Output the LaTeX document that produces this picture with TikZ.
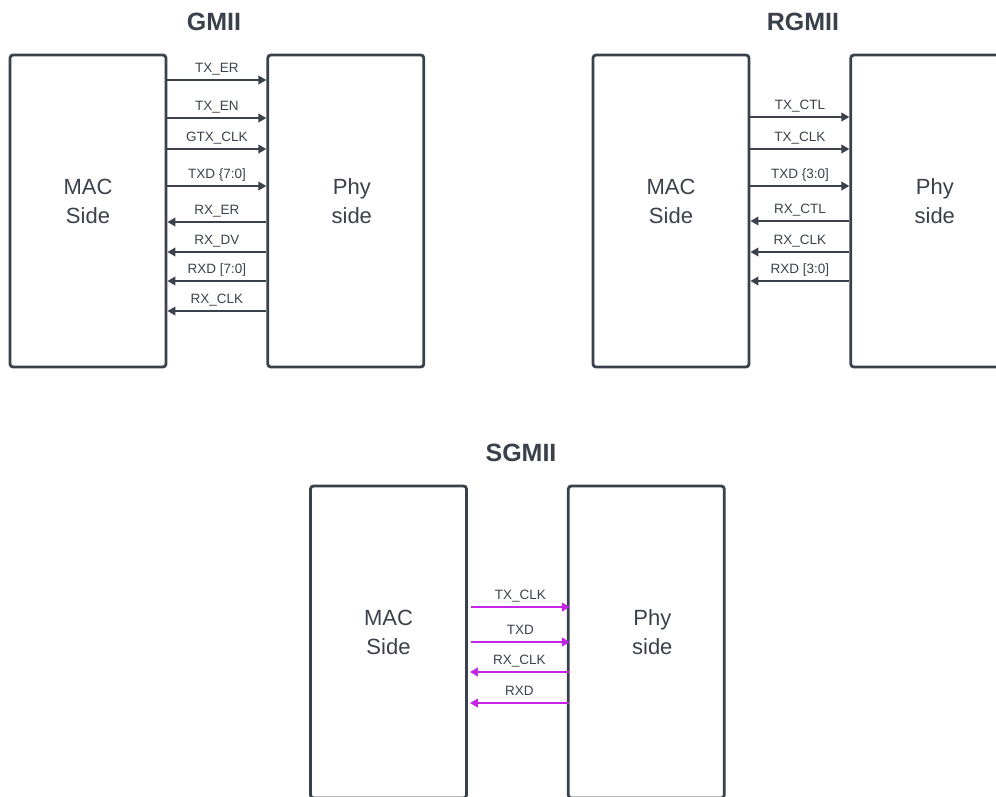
\documentclass[tikz,border=0pt]{standalone}
\usepackage{fontspec}
\setmainfont{Liberation Sans}
\usetikzlibrary{arrows.meta,positioning}
\definecolor{ink}{HTML}{3A414A}
\definecolor{sgline}{HTML}{C424E6}

\begin{document}
\begin{tikzpicture}[x=1pt,y=-1pt,>={Triangle[length=8pt,width=8.5pt]},
  node distance=99pt,
  box/.style={draw=ink,line width=2.8pt,rounded corners=3pt,
    minimum width=156pt,minimum height=312pt,inner sep=0pt},
  boxtxt/.style={text=ink,align=center,font=\fontsize{22}{29}\selectfont},
  title/.style={text=ink,font=\fontsize{25}{30}\selectfont\bfseries},
  sig/.style={->,draw=ink,line width=2.8pt},
  sgsig/.style={->,draw=sgline,line width=2.8pt},
  siglab/.style={text=ink,font=\fontsize{13.5}{16}\selectfont,anchor=base,yshift=7.5pt}]
  \clip (0,0) rectangle (996,796);

  % GMII
  \node[title] (gtitle) at (214,22) {GMII};
  \node[box] (gmac) at (88,211) {};
  \node[box,right=of gmac] (gphy) {};
  \node[boxtxt] (gmactxt) at ([yshift=10pt]gmac.center) {MAC\\Side};
  \node[boxtxt] (gphytxt) at ([xshift=6pt,yshift=10pt]gphy.center) {Phy\\side};
  \foreach \yy/\lb in {80/TX\_ER,118/TX\_EN,149/GTX\_CLK,186/TXD \{7:0]}
    \draw[sig] (gmac.east |- 0,\yy) -- (gphy.west |- 0,\yy) node[siglab,midway]{\lb};
  \foreach \yy/\lb in {222/RX\_ER,252/RX\_DV,281/RXD [7:0],311/RX\_CLK}
    \draw[sig] (gphy.west |- 0,\yy) -- (gmac.east |- 0,\yy) node[siglab,midway]{\lb};

  % RGMII
  \node[title] (rtitle) at (803,22) {RGMII};
  \node[box] (rmac) at (671,211) {};
  \node[box,right=of rmac] (rphy) {};
  \node[boxtxt] (rmactxt) at ([yshift=10pt]rmac.center) {MAC\\Side};
  \node[boxtxt] (rphytxt) at ([xshift=6pt,yshift=10pt]rphy.center) {Phy\\side};
  \foreach \yy/\lb in {117/TX\_CTL,149/TX\_CLK,186/TXD \{3:0]}
    \draw[sig] (rmac.east |- 0,\yy) -- (rphy.west |- 0,\yy) node[siglab,midway]{\lb};
  \foreach \yy/\lb in {221/RX\_CTL,252/RX\_CLK,281/RXD [3:0]}
    \draw[sig] (rphy.west |- 0,\yy) -- (rmac.east |- 0,\yy) node[siglab,midway]{\lb};

  % SGMII
  \node[title] (stitle) at (521,453) {SGMII};
  \node[box] (smac) at (388.5,642) {};
  \node[box,right=of smac] (sphy) {};
  \node[boxtxt] (smactxt) at ([yshift=10pt]smac.center) {MAC\\Side};
  \node[boxtxt] (sphytxt) at ([xshift=6pt,yshift=10pt]sphy.center) {Phy\\side};
  \foreach \yy/\lb in {607/TX\_CLK,642/TXD}
    \draw[sgsig] ([xshift=3pt]smac.east |- 0,\yy) -- ([xshift=3pt]sphy.west |- 0,\yy) node[siglab,midway]{\lb};
  \foreach \yy/\lb in {672/RX\_CLK,703/RXD}
    \draw[sgsig] ([xshift=2pt]sphy.west |- 0,\yy) -- ([xshift=2pt]smac.east |- 0,\yy) node[siglab,midway]{\lb};
\end{tikzpicture}
\end{document}
